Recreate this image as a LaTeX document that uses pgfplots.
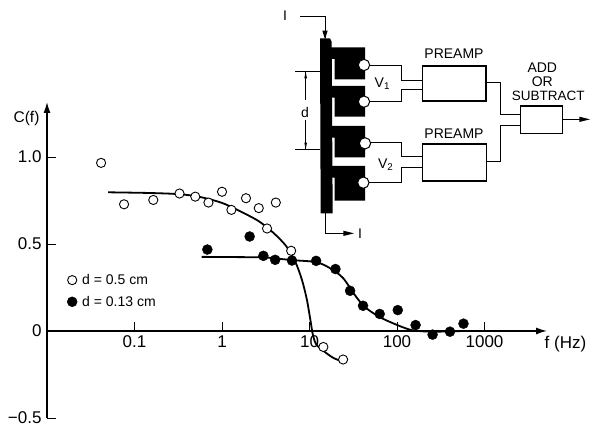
\documentclass[border=0pt]{standalone}
\usepackage{fontspec}
\setmainfont{Liberation Sans}
\usepackage{pgfplots}
\pgfplotsset{compat=1.18}
\usetikzlibrary{arrows.meta}
\pgfplotstableread{
f y
0.0415 0.966
0.076 0.728
0.164 0.753
0.327 0.79
0.495 0.772
0.70 0.738
1.0 0.80
1.28 0.696
1.88 0.763
2.63 0.706
4.12 0.738
3.27 0.589
6.17 0.461
14.4 -0.092
24.2 -0.164
}\opendata
\pgfplotstableread{
f y
0.68 0.468
2.07 0.543
2.97 0.432
4.05 0.409
6.3 0.405
11.9 0.403
19.8 0.356
29.1 0.231
40.9 0.145
63.4 0.098
102 0.12
163 0.034
255 -0.021
403 -0.004
575 0.042
}\fulldata
\pgfplotstableread{
f y
0.05 0.797
0.15 0.793
0.327 0.786
0.562 0.77
1.0 0.736
1.61 0.688
2.63 0.631
3.87 0.564
5.41 0.488
6.85 0.40
8.17 0.296
9.33 0.18
10.35 0.048
10.9 -0.019
11.9 -0.076
14.5 -0.115
18.5 -0.153
24.2 -0.178
}\opencurve
\pgfplotstableread{
f y
0.585 0.426
2.29 0.424
2.94 0.424
6.45 0.407
11.8 0.396
16.9 0.363
24 0.306
32.6 0.21
42.4 0.14
63.4 0.08
102 0.033
151 0.004
255 -0.004
575 0
}\fullcurve
\begin{document}
\begin{tikzpicture}[x=1pt,y=1pt]
\path[use as bounding box] (0,0) rectangle (590,427);
\begin{axis}[
  at={(47pt,9pt)}, anchor=south west,
  scale only axis, width=500pt, height=316pt,
  xmode=log, log basis x=10,
  xmin=0.01, xmax=5176, ymin=-0.5, ymax=1.316,
  axis x line=middle, axis y line=left,
  axis line style={line width=1.4pt,-{Latex[length=11pt,width=7pt]}},
  tick align=inside, major tick length=9pt,
  tick style={line width=0.8pt,black},
  minor tick num=0, xminorticks=false,
  xtick={0.1,1,10,100,1000},
  xticklabels={0.1,1,10,100,1000},
  ytick={-0.5,0,0.5,1},
  yticklabels={−0.5,0,0.5,1.0},
  tick label style={font=\fontsize{17}{17}\selectfont},
  xticklabel style={yshift=-1pt},
  yticklabel style={xshift=-2pt},
  clip=false,
  legend style={draw=none,fill=none,at={(0.034,0.402)},anchor=west,
    font=\fontsize{14}{14}\selectfont,row sep=6pt,
    legend cell align=left,
    nodes={inner xsep=5pt},
    /tikz/every even column/.append style={column sep=6pt}},
  legend image post style={xshift=-1pt},
]
\addplot[forget plot,black,line width=1.8pt,smooth,tension=0.5] table[x=f,y=y] {\opencurve};
\addplot[forget plot,black,line width=1.8pt,smooth,tension=0.5] table[x=f,y=y] {\fullcurve};
\addplot[only marks,mark=*,mark size=4.6pt,mark options={draw=black,fill=white,line width=0.9pt}] table[x=f,y=y] {\opendata};
\addlegendentry{d = 0.5 cm}
\addplot[only marks,mark=*,mark size=5pt,mark options={draw=black,fill=black}] table[x=f,y=y] {\fulldata};
\addlegendentry{d = 0.13 cm}
\end{axis}
% axis texts, in picture pixels
\node[font=\fontsize{15.5}{15.5}\selectfont] at (26.5,427-118) {C(f)};
\node[font=\fontsize{17}{17}\selectfont] at (565.5,427-344) {f (Hz)};
% schematic, in zoomed-crop coordinates
\begin{scope}[shift={(290,427)},x=1pt/3,y=-1pt/3,line width=0.9pt]
  % coils and bar
  \foreach \a/\b in {142/238,258/350,378/472,498/602}{
    \fill[black] (120,\a) -- (225,\a) -- (225,\b) -- (134,\b) -- (134,\a+35) -- (120,\a+35) -- cycle;
  }
  \fill[black] (90,115) -- (120,115) -- (125,125) -- (128,640) -- (92,640) -- cycle;
  \foreach \x/\y in {222/195,222/305,225/430,220/548}{
    \draw[fill=white,line width=1pt] (\x,\y) circle (17);
  }
  % input and output currents
  \draw (30,48) -- (105,48) -- (105,115);
  \fill (105,118) -- (97,92) -- (113,92) -- cycle;
  \draw (105,640) -- (105,700) -- (165,700);
  \fill (192,700) -- (160,692) -- (160,708) -- cycle;
  % wires
  \draw (240,195) -- (333,195) -- (333,240) -- (397,240);
  \draw (240,305) -- (333,305) -- (333,268) -- (397,268);
  \draw (242,427) -- (335,427) -- (335,470) -- (397,470);
  \draw (238,548) -- (335,548) -- (335,502) -- (397,502);
  \draw (588,248) -- (630,248) -- (630,342) -- (692,342);
  \draw (590,483) -- (630,483) -- (630,375) -- (692,375);
  % boxes
  \draw[line width=1.1pt] (397,198) rectangle (588,303);
  \draw[line width=1.1pt] (397,432) rectangle (590,543);
  \draw[line width=1.1pt] (692,318) rectangle (818,400);
  \draw (818,358) -- (870,358);
  \fill (900,358) -- (868,350) -- (868,366) -- cycle;
  % dimension
  \draw[line width=0.6pt] (15,215) -- (90,215);
  \draw[line width=0.6pt] (15,448) -- (90,448);
  \draw[line width=0.6pt] (47,300) -- (47,215);
  \draw[line width=0.6pt] (47,360) -- (47,448);
  \fill (47,215) -- (43,235) -- (51,235) -- cycle;
  \fill (47,448) -- (43,428) -- (51,428) -- cycle;
  % labels
  \begin{scope}[every node/.style={font=\fontsize{14}{14}\selectfont,inner sep=0pt}]
    \node at (492,160) {PREAMP};
    \node at (492,402) {PREAMP};
    \node at (757,203) {ADD};
    \node at (757,245) {OR};
    \node[font=\fontsize{13.5}{13.5}\selectfont] at (775,287) {SUBTRACT};
    \node at (45,337) {d};
    \node at (277,250) {V\textsubscript{1}};
    \node at (287,495) {V\textsubscript{2}};
    \node at (-15,48) {I};
    \node at (210,702) {I};
  \end{scope}
\end{scope}
\end{tikzpicture}
\end{document}
